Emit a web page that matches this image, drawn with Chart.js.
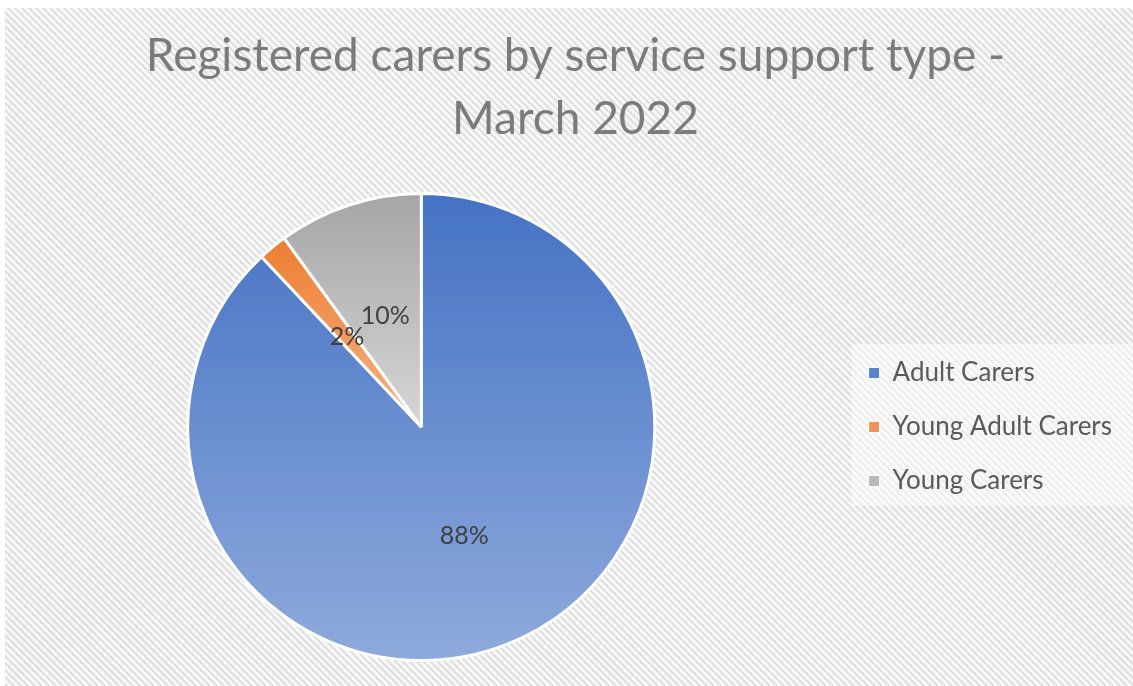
<!DOCTYPE html>
<html>
<head>
<meta charset="utf-8">
<title>Registered carers by service support type</title>
<script src="https://cdn.jsdelivr.net/npm/chart.js@4.4.1/dist/chart.umd.min.js"></script>
<style>
  html, body { margin: 0; padding: 0; background: #fff; }
  #wrap { width: 1133px; height: 686px; position: relative; }
</style>
</head>
<body>
<div id="wrap"><canvas id="carersChart"></canvas></div>
<script>
const categories = ['Adult Carers', 'Young Adult Carers', 'Young Carers'];
const shares = [88, 2, 10];

// slice fills fade from the darker shade at the top to the lighter one at the bottom
const topColours = ['#4472c4', '#ed7d31', '#a5a5a5'];
const bottomColours = ['#8faadc', '#f6b486', '#d6d6d6'];
const legendColours = ['#5a82cc', '#f0935a', '#b8b8b8'];

const titleLines = ['Registered carers by service support type -', 'March 2022'];

// vertical gradient sized to the bounding box of each slice
function sliceGradient(context) {
  const chart = context.chart;
  const area = chart.chartArea;
  const i = context.dataIndex;
  if (!area) return topColours[i];
  const cx = (area.left + area.right) / 2;
  const cy = (area.top + area.bottom) / 2;
  const r = Math.min(area.width, area.height) / 2;
  const total = shares.reduce((a, b) => a + b, 0);
  let start = -Math.PI / 2;
  for (let k = 0; k < i; k++) start += shares[k] / total * 2 * Math.PI;
  const end = start + shares[i] / total * 2 * Math.PI;
  const ys = [cy, cy + r * Math.sin(start), cy + r * Math.sin(end)];
  [-Math.PI / 2, Math.PI / 2, 3 * Math.PI / 2].forEach(a => {
    if (a >= start && a <= end) ys.push(cy + r * Math.sin(a));
  });
  const g = chart.ctx.createLinearGradient(0, Math.min(...ys), 0, Math.max(...ys));
  g.addColorStop(0, topColours[i]);
  g.addColorStop(1, bottomColours[i]);
  return g;
}

// striped backdrop + lighter panel behind the legend
const backdrop = {
  id: 'backdrop',
  beforeDraw(chart) {
    const {ctx, width, height} = chart;
    ctx.save();
    ctx.fillStyle = '#ffffff';
    ctx.fillRect(0, 0, width, height);
    ctx.beginPath();
    ctx.rect(5, 8, width - 5, height - 8);
    ctx.clip();
    ctx.fillStyle = '#f8f8f8';
    ctx.fillRect(0, 0, width, height);
    ctx.strokeStyle = '#dedede';
    ctx.lineWidth = 2;
    ctx.beginPath();
    for (let x = -height; x < width; x += 7) {
      ctx.moveTo(x, 0);
      ctx.lineTo(x + height, height);
    }
    ctx.stroke();

    const boxes = chart.legend ? chart.legend.legendHitBoxes : [];
    if (boxes.length) {
      const first = boxes[0];
      const last = boxes[boxes.length - 1];
      const top = first.top - 16;
      const bottom = last.top + last.height + 12;
      ctx.fillStyle = 'rgba(255, 255, 255, 0.45)';
      ctx.fillRect(first.left - 17, top, width - first.left + 17, bottom - top);
    }
    ctx.restore();
  }
};

// the title sits a little right of the canvas middle
const titleNudge = {
  id: 'titleNudge',
  afterLayout(chart) {
    if (chart.titleBlock) chart.titleBlock.left += 27;
  }
};

// percentage labels in the middle of each slice
const sliceLabels = {
  id: 'sliceLabels',
  afterDatasetsDraw(chart) {
    const ctx = chart.ctx;
    const meta = chart.getDatasetMeta(0);
    ctx.save();
    ctx.font = '25px Lato';
    ctx.fillStyle = '#404040';
    ctx.textAlign = 'center';
    ctx.textBaseline = 'middle';
    meta.data.forEach((arc, i) => {
      const p = arc.getCenterPoint();
      ctx.fillText(shares[i] + '%', p.x, p.y);
    });
    ctx.restore();
  }
};

const config = {
  type: 'pie',
  data: {
    labels: categories,
    datasets: [{
      data: shares,
      backgroundColor: sliceGradient,
      borderColor: '#ffffff',
      borderWidth: 3
    }]
  },
  options: {
    responsive: true,
    maintainAspectRatio: false,
    animation: false,
    layout: {
      padding: { top: 0, left: 2, right: 11, bottom: 24 }
    },
    plugins: {
      title: {
        display: true,
        text: titleLines,
        color: '#7b7b7b',
        font: { family: 'Lato', size: 46, weight: 'normal', lineHeight: 1.37 },
        padding: { top: 25, bottom: 41 }
      },
      legend: {
        position: 'right',
        fullSize: false,
        labels: {
          boxWidth: 11,
          boxHeight: 11,
          padding: 28,
          color: '#595959',
          font: { family: 'Lato', size: 26 },
          generateLabels: (chart) => categories.map((text, i) => ({
            text: text,
            fillStyle: legendColours[i],
            strokeStyle: '#ffffff',
            lineWidth: 1,
            fontColor: '#595959',
            hidden: !chart.getDataVisibility(i),
            index: i
          }))
        }
      },
      tooltip: { enabled: false }
    }
  },
  plugins: [backdrop, titleNudge, sliceLabels]
};

const grafico = new Chart(document.getElementById('carersChart'), config);
</script>
</body>
</html>
